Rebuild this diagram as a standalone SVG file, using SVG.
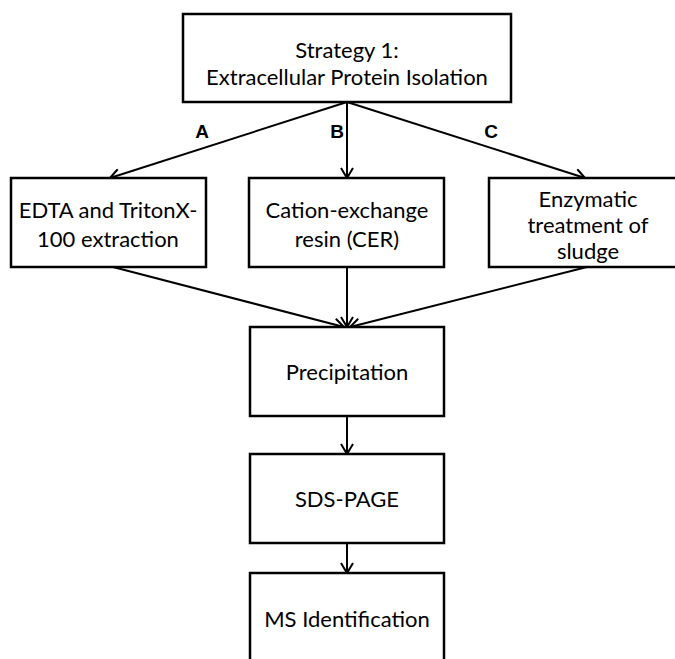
<svg xmlns="http://www.w3.org/2000/svg" width="675" height="659" viewBox="0 0 675 659">
<defs>
<marker id="ah" markerUnits="userSpaceOnUse" markerWidth="14" markerHeight="14" viewBox="0 0 14 14" refX="12" refY="7" orient="auto">
<path d="M2,1 L12,7 L2,13" fill="none" stroke="#000" stroke-width="2"/>
</marker>
</defs>
<style>
.box{fill:#fff;stroke:#000;stroke-width:2.5}
.t{font-family:Lato,"Liberation Sans",sans-serif;font-size:22px;fill:#000;text-anchor:middle}
.lbl{font-family:"Liberation Sans",Arial,sans-serif;font-size:19px;font-weight:bold;fill:#000;text-anchor:middle}
.c{stroke:#000;stroke-width:2;fill:none;marker-end:url(#ah)}
</style>
<rect width="675" height="659" fill="#fff"/>
<g id="connectors">
<line class="c" x1="347" y1="102" x2="110" y2="178"/>
<line class="c" x1="347" y1="102" x2="347" y2="178"/>
<line class="c" x1="347" y1="102" x2="585" y2="178"/>
<line class="c" x1="113" y1="267" x2="344" y2="327"/>
<line class="c" x1="347" y1="267" x2="347" y2="327"/>
<line class="c" x1="587" y1="267" x2="350" y2="327"/>
<line class="c" x1="347" y1="416" x2="347" y2="454"/>
<line class="c" x1="347" y1="537" x2="347" y2="573"/>
<text class="lbl" x="202" y="138">A</text>
<text class="lbl" x="337" y="138">B</text>
<text class="lbl" x="491" y="138">C</text>
</g>
<g id="strategy">
<rect class="box" x="183" y="14" width="328" height="88"/>
<text class="t" x="347" y="58">Strategy 1:</text>
<text class="t" x="347" y="85">Extracellular Protein Isolation</text>
</g>
<g id="edta">
<rect class="box" x="11" y="178" width="195" height="89"/>
<text class="t" x="108" y="218">EDTA and TritonX-</text>
<text class="t" x="108" y="247">100 extraction</text>
</g>
<g id="cer">
<rect class="box" x="249" y="178" width="195" height="89"/>
<text class="t" x="347" y="218">Cation-exchange</text>
<text class="t" x="347" y="247">resin (CER)</text>
</g>
<g id="enzymatic">
<rect class="box" x="489" y="178" width="196" height="89"/>
<text class="t" x="588" y="207">Enzymatic</text>
<text class="t" x="588" y="233">treatment of</text>
<text class="t" x="588" y="259">sludge</text>
</g>
<g id="precipitation">
<rect class="box" x="250" y="327" width="194" height="89"/>
<text class="t" x="347" y="380">Precipitation</text>
</g>
<g id="sdspage">
<rect class="box" x="250" y="454" width="194" height="89"/>
<text class="t" x="347" y="507">SDS-PAGE</text>
</g>
<g id="ms">
<rect class="box" x="250" y="573" width="194" height="92"/>
<text class="t" x="347" y="627">MS Identification</text>
</g>
</svg>
